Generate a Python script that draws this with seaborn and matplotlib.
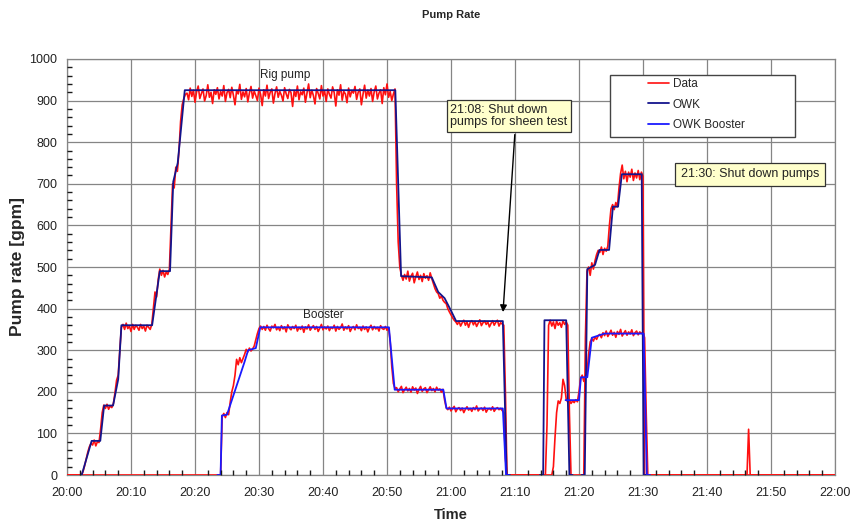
import numpy as np
import pandas as pd
import matplotlib
matplotlib.use("Agg")
import matplotlib.pyplot as plt
from matplotlib.patches import Rectangle
from matplotlib.ticker import MultipleLocator, NullLocator
import seaborn as sns

# === 1. Data (time in minutes after 20:00) ===
STEP = 0.25  # logger sample interval [min]

# Rig pump, measured
rig_start_1 = 2.0
rig_rate_1 = [
    0, 0, 8, 22, 38, 55, 68, 76, 72, 84, 70, 80, 78, 110, 150, 168, 160, 170, 158, 166,
    162, 172, 198, 228, 240, 300, 355, 362, 350, 365, 352, 358, 345, 362, 350, 360, 355, 348, 362, 352,
    358, 346, 360, 355, 350, 362, 400, 440, 428, 470, 495, 480, 492, 476, 488, 482, 495, 600, 700, 690,
    740, 730, 780, 850, 890, 905, 915,
    918, 902, 930, 910, 925, 896, 921, 935, 905, 917, 928, 899, 912, 938, 908, 920, 893, 926, 915, 931,
    904, 922, 911, 936, 898, 919, 927, 907, 932, 913, 890, 924, 916, 939, 903, 921, 909, 929, 897, 918,
    934, 906, 923, 912, 900, 930, 915, 888, 926, 911, 937, 905, 920, 928, 894, 917, 933, 908, 922, 913,
    899, 931, 916, 905, 927, 919, 886, 924, 910, 935, 902, 921, 914, 930, 896, 918, 940, 907, 925, 912,
    892, 929, 917, 904, 936, 911, 923, 898, 928, 915, 906, 933, 919, 887, 926, 913, 938, 901, 922, 916,
    895, 930, 909, 924, 918, 934, 903, 920, 928, 890, 915, 937, 906, 925, 911, 929, 898, 921, 935, 904,
    918, 926, 893, 931, 914, 940, 908, 922, 900, 916, 928,
    700, 560, 500, 480,
    468, 482, 471, 490, 466, 478, 485, 462, 476, 488, 470, 480, 465, 484, 473, 479, 468, 486, 472,
    460, 448, 440, 436, 425, 430, 420, 415, 412, 400, 392, 385, 378, 372, 368,
    362, 370, 358, 366, 372, 360, 368, 355, 367, 371, 361, 369, 357, 365, 373, 359, 366, 370, 362, 368,
    356, 364, 371, 360, 367, 372, 358, 366, 363,
    360, 200, 0, 0,
]
rig_start_2 = 74.75
rig_rate_2 = [0, 120, 360, 372, 358, 368, 352, 370, 360, 366, 355, 371, 362, 368, 360, 150, 0]
rig_start_3 = 80.75
rig_rate_3 = [
    0, 330, 490, 500, 480, 510, 495, 515, 530, 540, 535, 548, 530, 545, 538, 550, 600, 640, 650, 638,
    655, 645, 690, 725, 745, 712, 730, 705, 728, 716, 735, 708, 726, 714, 732, 710, 728, 718, 0,
]

# Booster, measured
boost_start_1 = 24.0
boost_rate_1 = [
    0, 140, 148, 138, 150, 145, 175, 200, 215, 240, 278, 265, 282, 270, 280, 290, 302, 296, 305, 298,
    303, 310, 325, 340, 352, 358,
    350, 357, 348, 360, 352, 346, 358, 354, 362, 349, 355, 347, 359, 351, 356, 344, 361, 353, 349, 357,
    352, 360, 346, 355, 350, 358, 343, 356, 351, 361, 348, 354, 359, 350, 357, 345, 353, 362, 349, 356,
    351, 358, 347, 355, 352, 360, 346, 357, 350, 354, 363, 348, 356, 351, 359, 345, 353, 357, 349, 361,
    352, 355, 347, 358, 350, 356, 344, 354, 360, 349, 357, 351, 355, 346, 359, 352, 350, 357, 348, 354,
    320, 260, 220, 208,
    210, 200, 207, 213, 198, 205, 211, 202, 208, 199, 212, 204, 209, 196, 206, 213, 201, 207, 210, 198,
    205, 212, 203, 208, 200, 211, 204, 207, 199, 206,
    180, 162,
    157, 163, 154, 160, 165, 152, 159, 162, 155, 161, 150, 158, 164, 156, 160, 153, 162, 157, 166, 154,
    159, 161, 155, 163, 151, 158, 160, 156, 164, 153, 159, 162, 157, 160, 155,
    150, 40, 0,
]
boost_start_2 = 75.75
boost_rate_2 = [
    0, 20, 90, 150, 178, 172, 185, 230, 215, 182, 175, 180, 172, 178, 174, 181, 176, 200, 232, 240,
    225, 238, 245, 290, 320, 328, 322, 332, 326, 335,
    338, 330, 342, 335, 346, 333, 340, 348, 336, 343, 331, 345, 338, 350, 334, 341, 347, 336, 344, 339,
    349, 335, 342, 346, 337, 344, 340, 343,
    330, 150, 0,
]
spike_start = 106.25
spike_rate = [0, 110, 0]

# OWK model curves (breakpoints), one list per pumping period
owk_t_1 = [2.3, 3.85, 5.2, 5.8, 7.2, 8.0, 8.5, 13.3, 14.5, 16.1, 16.6, 17.3, 18.4, 51.3, 52.2,
           57.0, 58.0, 59.0, 60.0, 60.8, 68.1, 68.7, 69.2]
owk_v_1 = [0, 82, 82, 167, 167, 230, 360, 360, 490, 490, 705, 750, 925, 925, 478,
           475, 440, 425, 395, 370, 370, 0, 0]
owk_t_2 = [73.9, 74.4, 74.6, 78.0, 78.5, 79.0]
owk_v_2 = [0, 0, 372, 372, 0, 0]
owk_t_3 = [80.4, 80.9, 81.3, 82.5, 83.2, 84.7, 85.3, 86.1, 86.7, 89.8, 90.1, 90.6]
owk_v_3 = [0, 0, 495, 505, 541, 541, 645, 645, 723, 723, 0, 0]
owk_boost_t_1 = [23.5, 24.0, 24.2, 25.0, 27.7, 28.3, 29.5, 30.2, 50.3, 51.2, 58.8, 59.3, 68.1, 68.6, 69.1]
owk_boost_v_1 = [0, 0, 143, 145, 270, 300, 305, 355, 355, 205, 205, 160, 160, 0, 0]
owk_boost_t_2 = [77.9, 78.2, 80.0, 80.3, 81.3, 82.0, 84.0, 90.1, 90.6, 91.1]
owk_boost_v_2 = [180, 180, 180, 235, 235, 330, 340, 340, 0, 0]

time_labels = ["20:00", "20:10", "20:20", "20:30", "20:40", "20:50", "21:00",
               "21:10", "21:20", "21:30", "21:40", "21:50", "22:00"]

# === 2. Put measured segments on the sample grid ===
grid = np.arange(0, 120 + STEP / 2, STEP)


def place(segments):
    out = np.zeros_like(grid)
    for start, vals in segments:
        i = int(round(start / STEP))
        n = min(len(vals), len(grid) - i)
        out[i:i + n] = vals[:n]
    return out


def periods(*pairs):
    frames = [pd.DataFrame({"t": t, "v": v, "seg": k}) for k, (t, v) in enumerate(pairs)]
    return pd.concat(frames, ignore_index=True)


rig = place([(rig_start_1, rig_rate_1), (rig_start_2, rig_rate_2),
             (rig_start_3, rig_rate_3), (spike_start, spike_rate)])
boost = place([(boost_start_1, boost_rate_1), (boost_start_2, boost_rate_2)])

measured = pd.DataFrame({"t": grid, "rig": rig, "boost": boost})
owk = periods((owk_t_1, owk_v_1), (owk_t_2, owk_v_2), (owk_t_3, owk_v_3))
owk_boost = periods((owk_boost_t_1, owk_boost_v_1), (owk_boost_t_2, owk_boost_v_2))

# === 3. Plot ===
sns.set_style("white")
plt.rcParams["font.family"] = ["Liberation Sans", "DejaVu Sans"]

fig = plt.figure(figsize=(8.5, 5.23), dpi=100)
rect = [67 / 850, 48 / 523, 768 / 850, 416 / 523]
ax = fig.add_axes(rect)

red = "#ff1010"
sns.lineplot(data=owk, x="t", y="v", units="seg", ax=ax, color="#14148c", lw=1.3,
             estimator=None, sort=False, label="OWK", zorder=4)
sns.lineplot(data=owk_boost, x="t", y="v", units="seg", ax=ax, color="#1a1aff", lw=1.3,
             estimator=None, sort=False, label="OWK Booster", zorder=4)
sns.lineplot(data=measured, x="t", y="rig", ax=ax, color=red, lw=1.2,
             estimator=None, sort=False, label="Data", zorder=3)
sns.lineplot(data=measured, x="t", y="boost", ax=ax, color=red, lw=1.2,
             estimator=None, sort=False, zorder=3)
handles, labels = ax.get_legend_handles_labels()
ax.get_legend().remove()

ax.set_xlim(0, 120)
ax.set_ylim(0, 1000)
ax.set_xticks(np.arange(0, 121, 10))
ax.set_xticklabels(time_labels)
ax.yaxis.set_major_locator(MultipleLocator(100))
ax.xaxis.set_minor_locator(NullLocator())
ax.yaxis.set_minor_locator(NullLocator())
ax.tick_params(which="major", direction="out", length=4, width=0.8, color="#333333",
               labelsize=9, labelcolor="#222222", pad=3)
ax.tick_params(axis="x", which="major", pad=5)
ax.grid(True, which="major", color="#858585", lw=0.9)
for s in ax.spines.values():
    s.set_color("#858585")
    s.set_linewidth(0.9)

# inner minor ticks sit on top of the data lines, so they go on an overlay axes
tk = fig.add_axes(rect, frameon=False, sharex=ax, sharey=ax)
tk.patch.set_visible(False)
tk.grid(False)
tk.xaxis.set_minor_locator(MultipleLocator(2))
tk.yaxis.set_minor_locator(MultipleLocator(20))
tk.tick_params(which="major", length=0, labelbottom=False, labelleft=False)
tk.tick_params(which="minor", direction="in", length=3.5, width=1.0, color="#1a1a1a",
               bottom=True, left=True, top=False, right=False)

ax.set_xlabel("Time", fontsize=10.5, fontweight="bold", labelpad=6)
ax.set_ylabel("Pump rate [gpm]", fontsize=12.5, fontweight="bold", labelpad=3)
fig.text(451 / 850, 1 - 15 / 523, "Pump Rate", ha="center", va="center",
         fontsize=8, fontweight="bold")

# legend with its own frame, entries in the original order
tk.add_patch(Rectangle((0.707, 0.8125), 0.241, 0.15, transform=tk.transAxes,
                       facecolor="white", edgecolor="#444444", lw=1.0, zorder=5))
order = [labels.index(n) for n in ["Data", "OWK", "OWK Booster"]]
leg = tk.legend([handles[i] for i in order], [labels[i] for i in order],
                loc="upper left", bbox_to_anchor=(0.7565, 0.955), frameon=False,
                fontsize=8.5, handlelength=1.8, handletextpad=0.3, labelspacing=0.75,
                borderpad=0, borderaxespad=0)
leg.set_zorder(6)

# labels and notes
ax.text(34.1, 961, "Rig pump", ha="center", va="center", fontsize=8.5, color="#222222")
ax.text(40.0, 385, "Booster", ha="center", va="center", fontsize=8.5, color="#222222")
note_box = dict(boxstyle="square,pad=0.3", facecolor="#ffffcc", edgecolor="#333333", lw=0.9)
tk.text(59.9, 893, "21:08: Shut down\npumps for sheen test", ha="left", va="top",
        fontsize=9, color="#222222", bbox=note_box, zorder=6, linespacing=1.05)
tk.annotate("", xy=(68.1, 385), xytext=(70.0, 825),
            arrowprops=dict(arrowstyle="-|>", color="black", lw=1.0, mutation_scale=10),
            zorder=6)
tk.text(95.9, 723, "21:30: Shut down pumps", ha="left", va="center",
        fontsize=9, color="#222222", zorder=6,
        bbox=dict(boxstyle="square,pad=0.45", facecolor="#ffffcc", edgecolor="#333333", lw=0.9))

plt.savefig("out.png", dpi=100)
